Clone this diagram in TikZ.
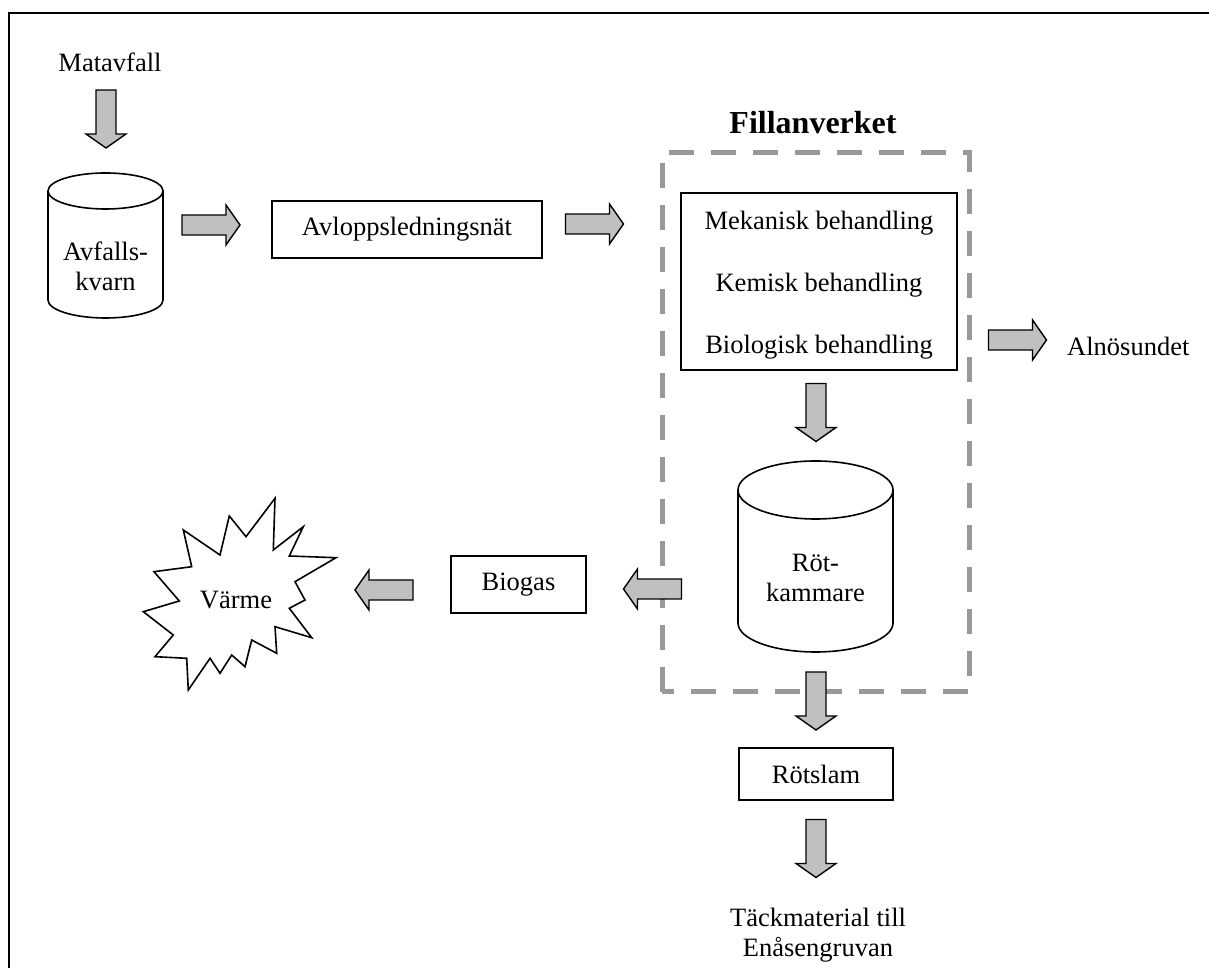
\documentclass[tikz,border=0pt]{standalone}
\usepackage{fontspec}
\setmainfont{Liberation Serif}
\definecolor{arrgray}{HTML}{C0C0C0}
\definecolor{dashgray}{HTML}{999999}
\newcommand{\blockarrow}[3]{%
  \begin{scope}[shift={#2}, rotate=#3]
    \draw[barrow] (-29,-10) -- (15,-10) -- (15,-20) -- (29,0) -- (15,20) -- (15,10) -- (-29,10) -- cycle;
    \coordinate (#1) at (0,0);
  \end{scope}}
\tikzset{
  box/.style={draw, line width=1.6pt, inner sep=0pt, font=\fontsize{26.5}{30}\selectfont},
  txt/.style={inner sep=0pt, font=\fontsize{26.5}{30}\selectfont, align=center},
  barrow/.style={draw, fill=arrgray, line width=1.4pt, line join=miter},
  shapeline/.style={draw, line width=1.6pt},
  dashbox/.style={draw=dashgray, line width=5pt, dash pattern=on 25pt off 17pt},
}
\begin{document}
\begin{tikzpicture}[x=1pt, y=1pt]
\useasboundingbox (0,0) rectangle (1209,968);
\fill[white] (0,0) rectangle (1209,968);
% frame
\draw[line width=2pt] (9,-10) -- (9,955) -- (1220,955);

% Fillanverket dashed box
\draw[dashbox] (662,276) rectangle (969,815);
\node[inner sep=0pt, font=\bfseries\fontsize{32}{36}\selectfont] (fill) at (813,845) {Fillanverket};

% Matavfall
\node[txt] (mat) at (110,906) {Matavfall};
\blockarrow{a0}{(106,849)}{-90}

% cylinder Avfallskvarn
\draw[shapeline, fill=white] (48,777) -- (48,668) arc[start angle=180, end angle=360, x radius=57.5, y radius=18] -- (163,777);
\draw[shapeline] (105.5,777) ellipse[x radius=57.5, y radius=18];
\node[txt] (kvarn) at (105.5,702) {Avfalls-\\kvarn};

\blockarrow{a1}{(211,743)}{0}

% Avloppsledningsnät
\node[box, minimum width=270pt, minimum height=57pt] (avl) at (407,738.5) {Avloppsledningsnät};

\blockarrow{a2}{(594.5,744)}{0}

% treatment box
\node[box, minimum width=276pt, minimum height=177pt] (treat) at (819,686.5) {};
\node[txt, font=\fontsize{26.5}{62}\selectfont] (treattxt) at (819,683) {Mekanisk behandling\\Kemisk behandling\\Biologisk behandling};

\blockarrow{a3}{(1017.5,628)}{0}
\node[txt, anchor=west] (aln) at (1067,622) {Alnösundet};

\blockarrow{a4}{(816,555.5)}{-90}

% Rötkammare cylinder
\draw[shapeline, fill=white] (738,478) -- (738,345) arc[start angle=180, end angle=360, x radius=77.5, y radius=29] -- (893,478);
\draw[shapeline] (815.5,478) ellipse[x radius=77.5, y radius=29];
\node[txt] (rot) at (815.5,390) {Röt-\\kammare};

\blockarrow{a5}{(652.5,379)}{180}

% Biogas
\node[box, minimum width=135pt, minimum height=57pt] (bio) at (518.5,383.5) {Biogas};

\blockarrow{a6}{(384,378)}{180}

% Värme starburst
\draw[shapeline, line join=miter, fill=white] (275,469.7) -- (273.3,418) -- (303.3,441.3) -- (289.3,412) -- (336,410.3) -- (295,386.3) -- (305,368) -- (289.3,359.7) -- (311.7,330.3) -- (275,341.3) -- (276.7,314.7) -- (251.7,328) -- (245,301.3) -- (231.7,313) -- (220,294.7) -- (210,309.7) -- (188.3,278) -- (186.7,309.7) -- (155,311.3) -- (173.3,333) -- (143.3,356.3) -- (179.3,367) -- (154,396.3) -- (191.7,401.3) -- (183.3,438) -- (220,413) -- (229.3,452) -- (246,431.3) -- cycle;
\node[txt] (varme) at (236,368) {Värme};

\blockarrow{a7}{(816,267)}{-90}

% Rötslam
\node[box, minimum width=154pt, minimum height=52pt] (slam) at (816,194) {Rötslam};

\blockarrow{a8}{(816,119.5)}{-90}

\node[txt, anchor=base] (tack1) at (818,41) {Täckmaterial till};
\node[txt, anchor=base] (tack2) at (818,11) {Enåsengruvan};
\end{tikzpicture}
\end{document}
